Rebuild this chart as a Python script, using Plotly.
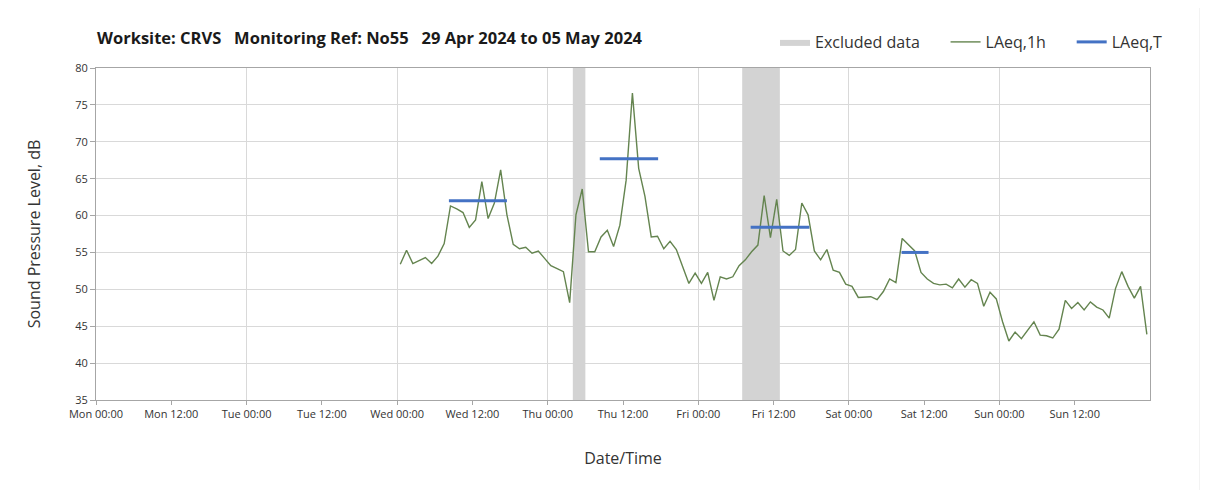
import numpy as np
import pandas as pd
import plotly.graph_objects as go

# ---------------- data ----------------
title_text = "Worksite: CRVS&nbsp;&nbsp;&nbsp;Monitoring Ref: No55&nbsp;&nbsp;&nbsp;29 Apr 2024 to 05 May 2024"

laeq_1h_start = "2024-05-01 00:30"
laeq_1h_values = [
    53.4, 55.3, 53.5, 53.9, 54.3, 53.5, 54.5, 56.2, 61.3, 60.9, 60.4, 58.4,
    59.4, 64.6, 59.6, 61.7, 66.2, 60.1, 56.1, 55.5, 55.7, 54.9, 55.2, 54.2,
    53.2, 52.8, 52.4, 48.2, 60.1, 63.6, 55.1, 55.1, 57.1, 58.0, 55.8, 58.7,
    64.8, 76.6, 66.4, 62.6, 57.1, 57.2, 55.5, 56.5, 55.4, 53.1, 50.8, 52.2,
    50.8, 52.3, 48.5, 51.7, 51.4, 51.7, 53.2, 54.0, 55.1, 56.0, 62.7, 57.0,
    62.2, 55.2, 54.6, 55.4, 61.7, 60.1, 55.2, 54.0, 55.4, 52.6, 52.3, 50.7,
    50.4, 48.9, 48.9, 49.0, 48.6, 49.7, 51.4, 50.9, 56.9, 56.0, 55.2, 52.3,
    51.4, 50.8, 50.6, 50.7, 50.2, 51.4, 50.3, 51.3, 50.8, 47.7, 49.6, 48.7,
    45.6, 43.0, 44.2, 43.3, 44.4, 45.6, 43.8, 43.7, 43.4, 44.6, 48.5, 47.4,
    48.2, 47.2, 48.3, 47.6, 47.2, 46.1, 50.1, 52.4, 50.4, 48.8, 50.4, 43.9,
]

laeq_t_start = ["2024-05-01 08:15", "2024-05-02 08:18", "2024-05-03 08:21", "2024-05-04 08:24"]
laeq_t_end = ["2024-05-01 17:30", "2024-05-02 17:36", "2024-05-03 17:42", "2024-05-04 12:42"]
laeq_t_values = [62.0, 67.7, 58.4, 55.0]

excluded_start = ["2024-05-02 04:00", "2024-05-03 07:00"]
excluded_end = ["2024-05-02 06:00", "2024-05-03 13:00"]

x_range = ["2024-04-29 00:00", "2024-05-06 00:00"]
y_range = [35, 80]
x_tick_count = 14  # Mon 00:00 ... Sun 12:00, every 12 h

# ---------------- build ----------------
times = pd.date_range(laeq_1h_start, periods=len(laeq_1h_values), freq="h")
x_ticks = pd.date_range(x_range[0], periods=x_tick_count, freq="12h")
x_ticktext = [t.strftime("%a %H:%M") for t in x_ticks]

ex_x, ex_y = [], []
for s, e in zip(excluded_start, excluded_end):
    ex_x += [s, e, e, s, s, None]
    ex_y += [y_range[0], y_range[0], y_range[1], y_range[1], y_range[0], None]

t_x, t_y = [], []
for s, e, v in zip(laeq_t_start, laeq_t_end, laeq_t_values):
    t_x += [s, e, None]
    t_y += [v, v, None]

PAD = "&nbsp;" * 5
FONT = "'Open Sans', Lato, sans-serif"
fig = go.Figure()
fig.add_trace(go.Scatter(
    x=ex_x, y=ex_y, fill="toself", mode="lines", line=dict(width=0),
    fillcolor="#d3d3d3", name="Excluded data" + PAD, hoverinfo="skip",
))
fig.add_trace(go.Scatter(
    x=times, y=laeq_1h_values, mode="lines", name="LAeq,1h" + PAD,
    line=dict(color="#64844f", width=1.4),
))
fig.add_trace(go.Scatter(
    x=t_x, y=t_y, mode="lines", name="LAeq,T",
    line=dict(color="#4472c4", width=3),
))
# invisible trace on overlay axis for daily gridlines
fig.add_trace(go.Scatter(x=x_range, y=[None, None], xaxis="x2", showlegend=False,
                         hoverinfo="skip"))

# page body has an 8px offset; target screen plot area: x 96..1150, y 68..400
OFF = 8
W, H = 1208, 490
L, T = 96 - OFF, 68 - OFF
R = W - (1150 - OFF)
B = H - (400 - OFF)
pw, ph = W - L - R, H - T - B

def px2x(px):
    return (px - OFF - L) / pw

def py2y(py):
    return (H - B - (py - OFF)) / ph

fig.update_layout(
    width=W, height=H,
    margin=dict(l=L, r=R, t=T, b=B),
    paper_bgcolor="white", plot_bgcolor="white",
    font=dict(family=FONT, color="#333333"),
    showlegend=True,
    legend=dict(
        orientation="h", x=px2x(1168), xanchor="right", y=py2y(42), yanchor="middle",
        font=dict(size=16, color="#333333"), bgcolor="rgba(0,0,0,0)",
        traceorder="normal", itemwidth=30,
    ),
    xaxis=dict(
        type="date", range=x_range, tickmode="array", tickvals=x_ticks, ticktext=x_ticktext,
        showgrid=False, zeroline=False,
        ticks="outside", ticklen=4, tickcolor="#a6a6a6",
        showline=True, linecolor="#a6a6a6", linewidth=1, mirror=True,
        tickfont=dict(size=11, color="#333333"),
        title=dict(text="Date/Time", font=dict(size=16, color="#333333"), standoff=32),
    ),
    xaxis2=dict(
        type="date", range=x_range, overlaying="x", dtick=24 * 3600 * 1000,
        tick0=x_range[0], showgrid=True, gridcolor="#d9d9d9", gridwidth=1,
        showticklabels=False, ticks="", zeroline=False, showline=False,
    ),
    yaxis=dict(
        range=y_range, dtick=5, showgrid=True, gridcolor="#d9d9d9", gridwidth=1,
        zeroline=False, ticks="outside", ticklen=5, tickcolor="#a6a6a6",
        showline=True, linecolor="#a6a6a6", linewidth=1, mirror=True,
        tickfont=dict(size=11, color="#333333"),
        title=dict(text="Sound Pressure Level, dB", font=dict(size=16, color="#333333"), standoff=30),
    ),
    annotations=[dict(
        text="<b>" + title_text + "</b>", xref="paper", yref="paper",
        x=px2x(95), y=py2y(38), xanchor="left", yanchor="middle",
        showarrow=False, font=dict(size=16.5, color="#1a1a1a", family=FONT),
    )],
    shapes=[dict(
        type="rect", xref="paper", yref="paper",
        x0=px2x(5), x1=px2x(1200), y0=py2y(497), y1=py2y(5),
        line=dict(color="#e6e6e6", width=1), fillcolor="rgba(0,0,0,0)", layer="below",
    )],
)

fig.write_html("out.html")
